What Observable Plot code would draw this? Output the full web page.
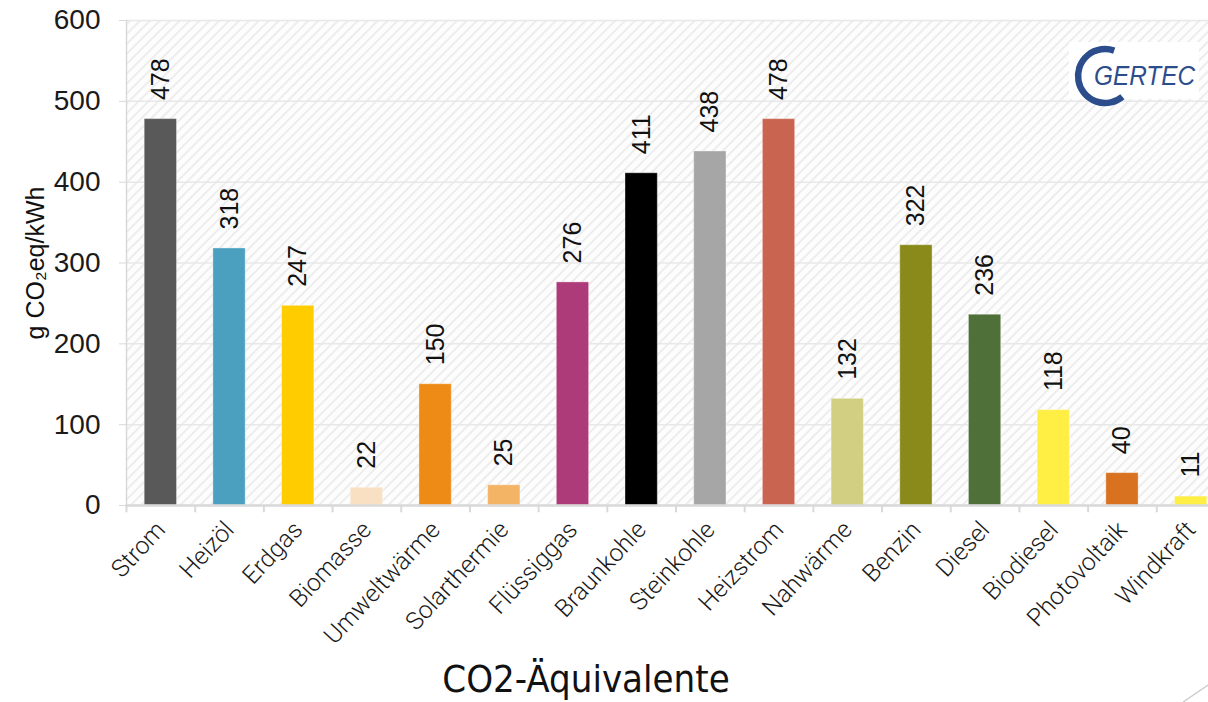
<!DOCTYPE html>
<html><head><meta charset="utf-8">
<script src="https://cdn.jsdelivr.net/npm/d3@7"></script>
<script src="https://cdn.jsdelivr.net/npm/@observablehq/plot@0.6"></script>
<style>
html,body{margin:0;padding:0;background:#fff;overflow:hidden;width:1208px;height:702px;}
#wrap{position:relative;width:1208px;height:702px;overflow:hidden;}
#chart{width:1230px;}
#chart svg{display:block;max-width:none !important;width:1230px;height:645px;}
#title{position:absolute;left:0;top:657px;width:1172px;text-align:center;font-family:"DejaVu Sans Condensed","DejaVu Sans",sans-serif;font-size:38px;line-height:44px;color:#111;}
#logo{position:absolute;left:1068px;top:36px;}
#deco{position:absolute;left:1170px;top:675px;}
</style>
</head><body>
<div id="wrap">
  <div id="chart"></div>
  <div id="title">CO2-Äquivalente</div>
  <svg id="logo" width="140" height="74">
    <rect x="1" y="6" width="130" height="57" fill="#fff"/>
    <path d="M 46.2 14.6 A 27 27 0 1 0 54.4 60.7" fill="none" stroke="#2C4D8C" stroke-width="6.5"/>
    <text x="26" y="49" font-family="Liberation Sans, Arial, sans-serif" font-style="italic" font-size="27" textLength="101" lengthAdjust="spacingAndGlyphs" fill="#2C4D8C">GERTEC</text>
  </svg>
  <svg id="deco" width="38" height="27"><line x1="13" y1="27" x2="38" y2="10" stroke="#cfcfcf" stroke-width="1.5"/></svg>
</div>
<script>
const categories = ["Strom","Heizöl","Erdgas","Biomasse","Umweltwärme","Solarthermie","Flüssiggas","Braunkohle","Steinkohle","Heizstrom","Nahwärme","Benzin","Diesel","Biodiesel","Photovoltaik","Windkraft"];
const values = [478,318,247,22,150,25,276,411,438,478,132,322,236,118,40,11];
const colors = ["#595959","#4BA0BF","#FFCC00","#FAE0C2","#EE8A16","#F4B466","#AD3A79","#000000","#A6A6A6","#C96451","#D2CF82","#8A8A1A","#50703A","#FFEF45","#D87120","#FFEF45"];
const yTicks = [0,100,200,300,400,500,600];
const yLabel = "g CO₂eq/kWh";

const data = categories.map((c, i) => ({category: c, value: values[i]}));

const defsMark = () => {
  const defs = d3.create("svg:defs");
  const p = defs.append("pattern").attr("id", "hatch").attr("patternUnits", "userSpaceOnUse")
    .attr("width", 7).attr("height", 7).attr("patternTransform", "rotate(45)");
  p.append("rect").attr("width", 7).attr("height", 7).attr("fill", "#fdfdfd");
  p.append("line").attr("x1", 1).attr("y1", 0).attr("x2", 1).attr("y2", 7)
    .attr("stroke", "#ededed").attr("stroke-width", 2);
  return defs.node();
};

const left = 126, right = 1225;
const step = (right - left) / categories.length;

const chart = Plot.plot({
  width: 1230, height: 645,
  marginLeft: left, marginRight: 1230 - right, marginTop: 20, marginBottom: 140,
  style: {fontFamily: "Liberation Sans, Arial, sans-serif", background: "transparent", overflow: "visible", color: "#1a1a1a", maxWidth: "none"},
  x: {domain: categories, paddingInner: 0.53, paddingOuter: 0.265, round: false, axis: null},
  y: {domain: [0, 600], axis: null},
  color: {domain: categories, range: colors},
  marks: [
    defsMark,
    Plot.frame({fill: "url(#hatch)"}),
    Plot.gridY(yTicks, {stroke: "#e8e8e8", strokeOpacity: 1, strokeWidth: 1.5}),
    Plot.barY(data, {x: "category", y: "value", fill: "category", stroke: "#ffffff", strokeOpacity: 0.35, strokeWidth: 1}),
    Plot.text(data, {x: "category", y: "value", text: d => String(d.value), rotate: -90, textAnchor: "start", dy: -19, fontSize: 25, fill: "#111"}),
    Plot.frame({anchor: "left", stroke: "#d9d9d9", strokeWidth: 1.5}),
    Plot.frame({anchor: "bottom", stroke: "#d9d9d9", strokeWidth: 2.5}),
    Plot.axisY({ticks: yTicks, tickSize: 7, tickPadding: 19, fontSize: 28, stroke: "#d9d9d9", fill: "#1a1a1a", label: null}),
    Plot.axisX({tickSize: 0, tickPadding: 20, tickRotate: -47, fontSize: 24.5, fontFamily: "Roboto, Lato, sans-serif", fontWeight: 300, fill: "#1a1a1a", label: null}),
    Plot.ruleX(categories, {x: d => d, dx: -step / 2, y1: 0, y2: -9, stroke: "#d9d9d9", strokeWidth: 2}),
    Plot.text([yLabel], {text: d => d, frameAnchor: "left", textAnchor: "middle", dx: -91, rotate: -90, fontSize: 25, fill: "#111"})
  ]
});
document.getElementById("chart").appendChild(chart);
</script>
</body></html>
